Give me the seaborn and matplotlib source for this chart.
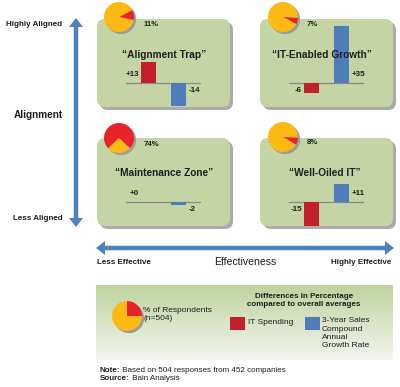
import numpy as np
import pandas as pd
import matplotlib
matplotlib.use("Agg")
import matplotlib.pyplot as plt
import seaborn as sns
from matplotlib.patches import FancyBboxPatch, Polygon, Circle, Rectangle

# ---------------- data ----------------
quadrants = ["Alignment Trap", "IT-Enabled Growth", "Maintenance Zone", "Well-Oiled IT"]
pct_respondents = [11, 7, 74, 8]
it_spending = [13, -6, 0, -15]
sales_growth = [-14, 35, -2, 11]
measures = ["IT Spending", "3-Year Sales\nCompound\nAnnual\nGrowth Rate"]
legend_sample = [25, 75]
y_axis_labels = ["Highly Aligned", "Alignment", "Less Aligned"]
x_axis_labels = ["Less Effective", "Effectiveness", "Highly Effective"]

# ---------------- style ----------------
sns.set_style("white")
plt.rcParams["font.family"] = ["Liberation Sans", "DejaVu Sans"]

RED_BAR = "#C3202B"
BLUE_BAR = "#4F7DB9"
PIE_RED = "#E8232A"
PIE_YEL = "#FDB913"
PANEL = "#C4D4A4"
SHADOW = "#ABABAB"
ARROW = "#4F81BD"
TXT = "#1E1E1E"

W, H = 400, 387
fig = plt.figure(figsize=(4, 3.87), dpi=100)
bg = fig.add_axes([0, 0, 1, 1])
bg.set_xlim(0, W)
bg.set_ylim(H, 0)
bg.axis("off")


def px_axes(x, y, w, h):
    return fig.add_axes([x / W, 1 - (y + h) / H, w / W, h / H])


def top_text(x, y, s, **kw):
    # figure-level text placed in pixel coordinates, drawn above all axes
    return fig.text(x, y, s, transform=bg.transData, zorder=10, **kw)


def double_arrow(ax, p0, p1, shaft, head_w, head_l, color):
    p0 = np.array(p0, float)
    p1 = np.array(p1, float)
    u = (p1 - p0) / np.linalg.norm(p1 - p0)
    n = np.array([-u[1], u[0]])
    b0 = p0 + u * head_l
    b1 = p1 - u * head_l
    pts = [p0, b0 + n * head_w / 2, b0 + n * shaft / 2, b1 + n * shaft / 2,
           b1 + n * head_w / 2, p1, b1 - n * head_w / 2, b1 - n * shaft / 2,
           b0 - n * shaft / 2, b0 - n * head_w / 2]
    ax.add_patch(Polygon(pts, closed=True, fc=color, ec="none"))


# ---------------- axes arrows ----------------
double_arrow(bg, (76, 18), (76, 227), 4.5, 14, 9, ARROW)
double_arrow(bg, (96, 248), (394, 248), 4.5, 14, 9, ARROW)

bg.text(62, 25, y_axis_labels[0], ha="right", va="center", fontsize=5.8,
        fontweight="bold", color=TXT)
bg.text(63, 115, y_axis_labels[1], ha="right", va="center", fontsize=7.2,
        fontweight="bold", color=TXT)
bg.text(63, 218, y_axis_labels[2], ha="right", va="center", fontsize=5.8,
        fontweight="bold", color=TXT)
bg.text(97, 263, x_axis_labels[0], ha="left", va="center", fontsize=5.8,
        fontweight="bold", color=TXT)
bg.text(245, 262, x_axis_labels[1], ha="center", va="center", fontsize=7.6,
        color=TXT)
bg.text(391, 263, x_axis_labels[2], ha="right", va="center", fontsize=5.8,
        fontweight="bold", color=TXT)

# ---------------- panels ----------------
panel_xy = [(97, 19), (260, 19), (97, 138), (260, 138)]
PW, PH = 133, 88
for (x, y) in panel_xy:
    bg.add_patch(FancyBboxPatch((x + 3, y + 3), PW, PH,
                                boxstyle="round,pad=0,rounding_size=8",
                                fc=SHADOW, ec="none"))
    bg.add_patch(FancyBboxPatch((x, y), PW, PH,
                                boxstyle="round,pad=0,rounding_size=8",
                                fc=PANEL, ec="none"))

title_xy = [(164, 55), (322, 55), (164, 173), (325, 173)]
for q, (tx, ty) in zip(quadrants, title_xy):
    top_text(tx, ty, "\u201c" + q + "\u201d", ha="center", va="center",
             fontsize=7.3, fontweight="bold", color=TXT)

pct_xy = [(144, 25), (307, 25), (144, 144), (307, 143)]
for p, (tx, ty) in zip(pct_respondents, pct_xy):
    bg.text(tx, ty, f"{p}%", ha="left", va="center", fontsize=5.6,
            fontweight="bold", color=TXT)

# ---------------- bar charts ----------------
K = 1.62  # px per unit
YMIN, YMAX = -17, 37
bar_origin = [(126, 83), (289, 83), (126, 202), (289, 202)]
for i, (bx, by) in enumerate(bar_origin):
    ax = px_axes(bx, by - YMAX * K, 75, (YMAX - YMIN) * K)
    df = pd.DataFrame({"measure": measures,
                       "value": [it_spending[i], sales_growth[i]]})
    ax.axhline(0, color="#8A8A8A", lw=0.9, zorder=0)
    sns.barplot(data=df, x="measure", y="value", hue="measure",
                palette=[RED_BAR, BLUE_BAR], width=0.5, saturation=1,
                legend=False, ax=ax, zorder=2, linewidth=0, edgecolor="none")
    ax.set_xlim(-0.75, 1.75)
    ax.set_ylim(YMIN, YMAX)
    ax.axis("off")
    for j, v in enumerate(df["value"]):
        yy = 5.0 if v >= 0 else -4.6
        if j == 0:
            ax.text(-0.32, yy, f"{v:+d}", ha="right", va="center",
                    fontsize=5.8, fontweight="bold", color=TXT)
        else:
            ax.text(1.34, yy, f"{v:+d}", ha="left", va="center",
                    fontsize=5.8, fontweight="bold", color=TXT)

# ---------------- pies ----------------
def draw_pie(cx, cy, r, vals, start, ccw):
    s = r * 1.25
    ax = px_axes(cx - s, cy - s, 2 * s, 2 * s)
    ax.pie(vals, colors=[PIE_RED, PIE_YEL], startangle=start,
           counterclock=ccw, radius=1.0, wedgeprops=dict(lw=0, zorder=2))
    ax.add_patch(Circle((0.14, -0.14), 1.0, fc="#9C9C9C", ec="none", zorder=1))
    ax.set_xlim(-1.25, 1.25)
    ax.set_ylim(-1.25, 1.25)
    ax.set_aspect("equal")
    ax.axis("off")


pie_centers = [(119, 17), (283, 17), (119, 138), (283, 137)]
pie_start = [-12, -3, -43, -2]
pie_ccw = [True, False, True, False]
for i, (cx, cy) in enumerate(pie_centers):
    p = pct_respondents[i]
    draw_pie(cx, cy, 15, [p, 100 - p], pie_start[i], pie_ccw[i])

# ---------------- legend box ----------------
grad = np.linspace(0, 1, 100)[:, None]
top = np.array([192, 211, 158]) / 255
bot = np.array([242, 245, 238]) / 255
img = top[None, None, :] * (1 - grad[:, :, None]) + bot[None, None, :] * grad[:, :, None]
img = np.repeat(img, 2, axis=1)
bg.imshow(img, extent=(96, 393, 360, 285), origin="upper", aspect="auto",
          zorder=1)
bg.set_xlim(0, W)
bg.set_ylim(H, 0)

draw_pie(127, 316, 15, legend_sample, 90, False)
bg.text(143, 315, "% of Respondents\n(n=504)", ha="left", va="center",
        fontsize=6.0, color=TXT, linespacing=1.2, zorder=3)
bg.text(304, 300, "Differences in Percentage\ncompared to overall averages",
        ha="center", va="center", fontsize=5.8, fontweight="bold", color=TXT,
        linespacing=1.2, zorder=3)
bg.add_patch(Rectangle((230, 317), 15, 13, fc=RED_BAR, ec="none", zorder=3))
bg.add_patch(Rectangle((305, 317), 15, 13, fc=BLUE_BAR, ec="none", zorder=3))
bg.text(248, 322.5, measures[0], ha="left", va="center", fontsize=6.0,
        color=TXT, zorder=3)
bg.text(322, 317.5, measures[1], ha="left", va="top", fontsize=6.0,
        color=TXT, linespacing=1.25, zorder=3)

# ---------------- notes ----------------
t1 = bg.text(100, 370, "Note:", ha="left", va="center", fontsize=5.8,
             fontweight="bold", color=TXT)
bg.annotate(" Based on 504 responses from 452 companies", xy=(1, 0.5),
            xycoords=t1, ha="left", va="center", fontsize=5.8, color=TXT)
t2 = bg.text(100, 379, "Source:", ha="left", va="center", fontsize=5.8,
             fontweight="bold", color=TXT)
bg.annotate(" Bain Analysis", xy=(1, 0.5), xycoords=t2, ha="left",
            va="center", fontsize=5.8, color=TXT)

fig.savefig("out.png", dpi=100)
